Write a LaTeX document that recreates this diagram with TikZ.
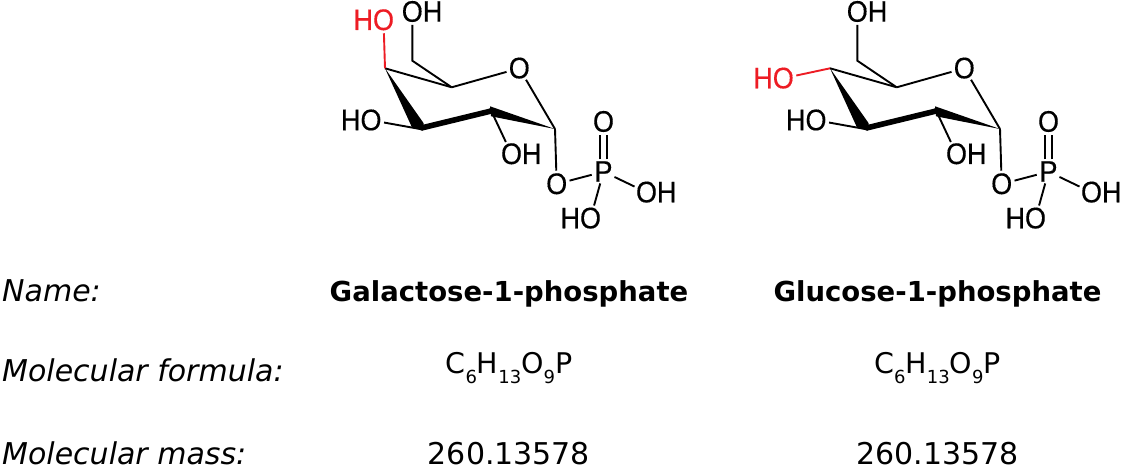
\documentclass[tikz,border=0pt]{standalone}
\usepackage{fontspec}
\setmainfont{DejaVu Sans}
\newfontfamily\chemfont[FakeBold=0.35]{Liberation Sans}
\usetikzlibrary{calc}
\definecolor{hlred}{HTML}{ED1C24}
\newcommand{\tallglyph}[1]{\scalebox{1}[1.1]{#1}}
\tikzset{
  atom/.style={shape=circle,inner sep=-1pt,font=\chemfont\fontsize{27}{30}\selectfont,text height=20pt,text depth=0pt},
  bond/.style={line width=1.9pt,black},
  redbond/.style={line width=1.9pt,hlred},
  rowlabel/.style={anchor=base west,inner sep=0pt,font=\fontsize{30}{34}\selectfont\itshape},
  compound/.style={anchor=base,inner sep=0pt,font=\fontsize{27.5}{32}\selectfont\bfseries},
  datum/.style={anchor=base,inner sep=0pt,font=\fontsize{30}{34}\selectfont},
  formula/.style={anchor=base,inner sep=0pt,font=\fontsize{28.5}{34}\selectfont},
}
\newcommand{\subs}[1]{\raisebox{-10pt}{\fontsize{18}{18}\selectfont #1}}
\newcommand{\sugar}[3]{%
\begin{scope}[xshift=#2pt]
  \coordinate (#1C4) at (385,68.3);
  \coordinate (#1C5) at (451.7,87.3);
  \coordinate (#1C1) at (555,129);
  \coordinate (#1C2) at (490,108.3);
  \coordinate (#1C3) at (421.7,129.3);
  \coordinate (#1C6) at (412.3,60.7);
  \node[atom] (#1Or) at (519.3,68.3) {\tallglyph{O}};
  \node[atom] (#1O6) at (412.3,11.7) {\tallglyph{O}};
  \node[atom] at ([xshift=20.25pt]#1O6.center) (#1H6) {\tallglyph{H}};
  \node[atom,text=hlred] (#1O4) at (#3) {\tallglyph{O}};
  \node[atom,text=hlred] at ([xshift=-20.25pt]#1O4.center) (#1H4) {\tallglyph{H}};
  \node[atom] (#1O3) at (371,120.2) {\tallglyph{O}};
  \node[atom] at ([xshift=-20.25pt]#1O3.center) (#1H3) {\tallglyph{H}};
  \node[atom] (#1O2) at (511.5,154) {\tallglyph{O}};
  \node[atom] at ([xshift=20.25pt]#1O2.center) (#1H2) {\tallglyph{H}};
  \node[atom] (#1O1) at (556.7,184) {\tallglyph{O}};
  \node[atom] (#1P) at (603.5,171.7) {\tallglyph{P}};
  \node[atom] (#1Od) at (603.5,121.7) {\tallglyph{O}};
  \node[atom] (#1Oa) at (646.5,192.3) {\tallglyph{O}};
  \node[atom] at ([xshift=20.25pt]#1Oa.center) (#1Ha) {\tallglyph{H}};
  \node[atom] (#1Ob) at (590.5,218.3) {\tallglyph{O}};
  \node[atom] at ([xshift=-20.25pt]#1Ob.center) (#1Hb) {\tallglyph{H}};
  \draw[bond] (#1C5) -- (#1C4);
  \draw[bond] (#1C5) -- (#1C6) -- (#1O6);
  \draw[bond] (#1C5) -- (#1Or);
  \draw[bond] (#1Or) -- (#1C1);
  \draw[bond] (#1C1) -- (#1O1);
  \draw[bond] (#1C3) -- (#1O3);
  \draw[bond] (#1C2) -- (#1O2);
  \draw[bond] (#1O1) -- (#1P);
  \draw[bond] (#1P) -- (#1Oa);
  \draw[bond] (#1P) -- (#1Ob);
  \draw[bond] ([xshift=-3.8pt]#1P.north) -- ([xshift=-3.8pt]#1Od.south);
  \draw[bond] ([xshift=3.8pt]#1P.north) -- ([xshift=3.8pt]#1Od.south);
  \draw[redbond] (#1C4) -- (#1O4);
  \fill (#1C4) -- ([shift={(-10,-2.5)}]#1C3) -- ([shift={(1,1.5)}]#1C3) -- ([shift={(2,-6)}]#1C3) -- cycle;
  \fill (#1C1) -- ([shift={(0,-2)}]#1C2) -- ([shift={(1,8)}]#1C2) -- cycle;
  \draw[black,line width=5.6pt,line cap=round] ([shift={(0.5,-1.5)}]#1C3) -- ([shift={(0,3)}]#1C2);
\end{scope}}
\begin{document}
\begin{tikzpicture}[x=1pt,y=-1pt]
  \useasboundingbox (0,0) rectangle (1122,473);
  \sugar{a}{0}{383.5,20}
  \sugar{b}{445}{338.3,78.3}
  \node[rowlabel] (lname) at (2,301) {Name:};
  \node[rowlabel] (lform) at (2,381.7) {Molecular formula:};
  \node[rowlabel] (lmass) at (2,464) {Molecular mass:};
  \node[compound] (na) at (509,301) {Galactose-1-phosphate};
  \node[compound] (nb) at (937.5,301) {Glucose-1-phosphate};
  \node[formula] (fa) at (509,373) {C\subs{6}H\subs{13}O\subs{9}P};
  \node[formula] (fb) at (937.5,373) {C\subs{6}H\subs{13}O\subs{9}P};
  \node[datum] (ma) at (509,464) {260.13578};
  \node[datum] (mb) at (937.5,464) {260.13578};
\end{tikzpicture}
\end{document}
